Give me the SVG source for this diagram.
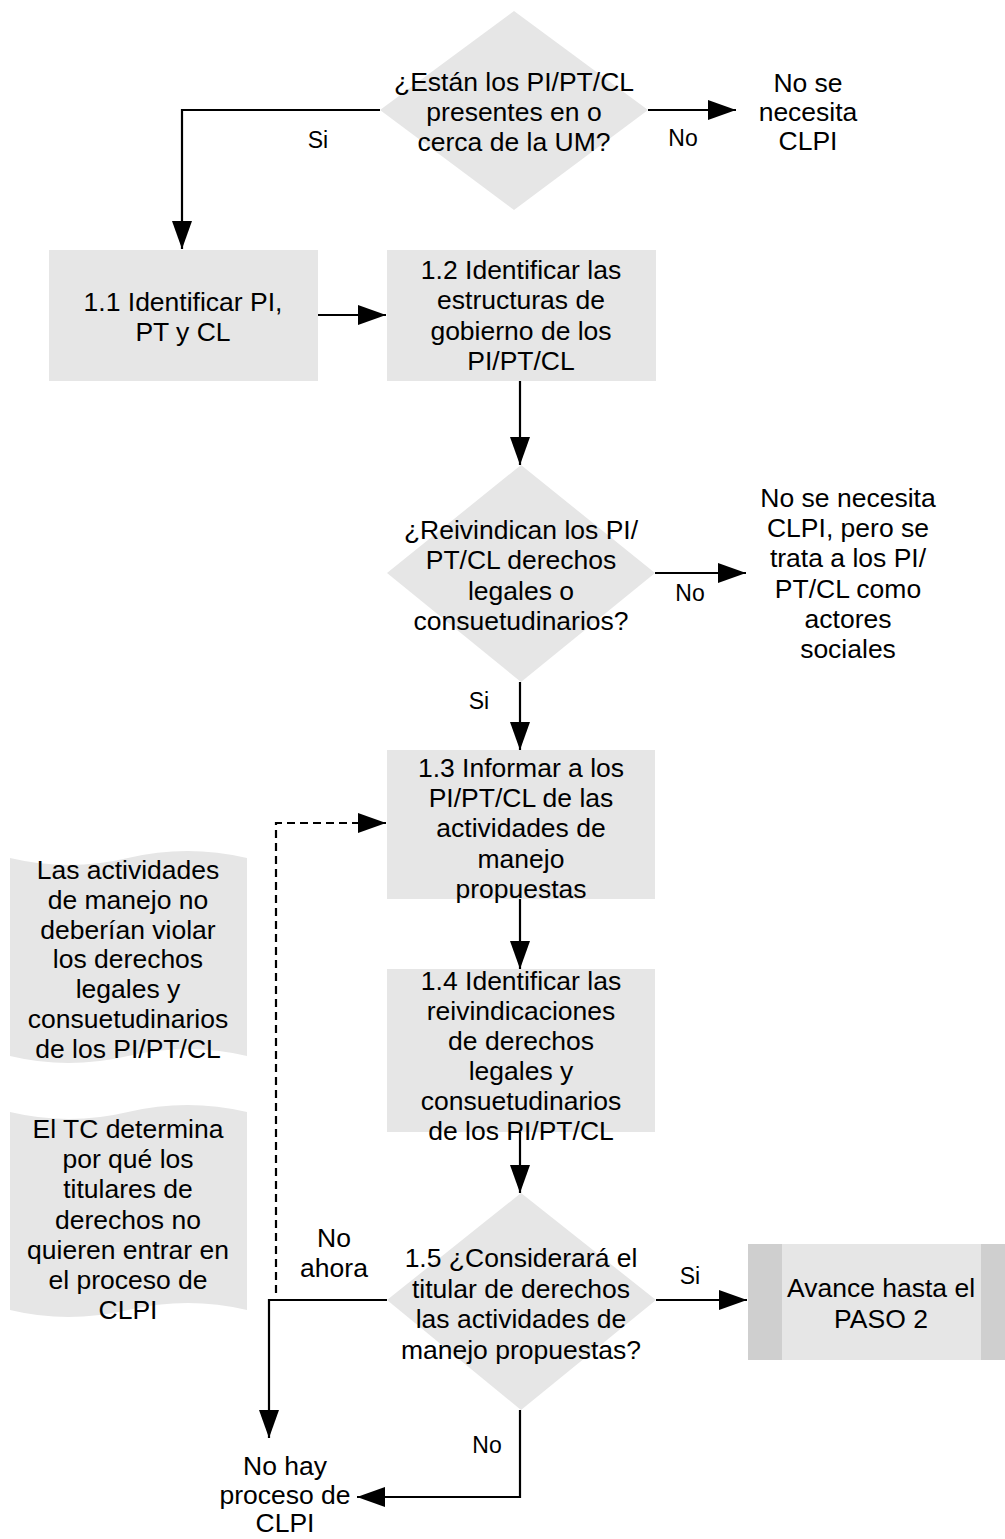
<svg xmlns="http://www.w3.org/2000/svg" width="1005" height="1539" viewBox="0 0 1005 1539">
  <style>
    .shape { fill: #e6e6e6; stroke: none; }
    .bar { fill: #cfcfcf; stroke: none; }
    .txt { font-family: "Liberation Sans", Arial, sans-serif; font-size: 26.5px; fill: #000; text-anchor: middle; }
    .lbl { font-family: "Liberation Sans", Arial, sans-serif; font-size: 23px; fill: #000; text-anchor: middle; }
    .edge { fill: none; stroke: #000; stroke-width: 2.2; }
    .dash { stroke-dasharray: 8 5; }
  </style>
  <defs>
    <marker id="arrow" viewBox="0 0 28 20" refX="28" refY="10" markerWidth="28" markerHeight="20" markerUnits="userSpaceOnUse" orient="auto">
      <path d="M0,0 L28,10 L0,20 z" fill="#000"/>
    </marker>
  </defs>

  <rect width="1005" height="1539" fill="#fff"/>

  <!-- Decision: presence of PI/PT/CL -->
  <g id="d1">
    <polygon class="shape" points="514,11 648,110 514,210 380,110"/>
    <text class="txt" x="514" y="91">¿Están los PI/PT/CL<tspan x="514" dy="30">presentes en o</tspan><tspan x="514" dy="30">cerca de la UM?</tspan></text>
  </g>

  <!-- End: no FPIC needed -->
  <g id="t1">
    <text class="txt" x="808" y="92">No se<tspan x="808" dy="29">necesita</tspan><tspan x="808" dy="29">CLPI</tspan></text>
  </g>

  <!-- Step 1.1 -->
  <g id="s11">
    <rect class="shape" x="49" y="250" width="269" height="131"/>
    <text class="txt" x="183" y="311">1.1 Identificar PI,<tspan x="183" dy="30">PT y CL</tspan></text>
  </g>

  <!-- Step 1.2 -->
  <g id="s12">
    <rect class="shape" x="387" y="250" width="269" height="131"/>
    <text class="txt" x="521" y="279">1.2 Identificar las<tspan x="521" dy="30.3">estructuras de</tspan><tspan x="521" dy="30.3">gobierno de los</tspan><tspan x="521" dy="30.3">PI/PT/CL</tspan></text>
  </g>

  <!-- Decision: rights claims -->
  <g id="d2">
    <polygon class="shape" points="521,465 655,573 521,682 387,573"/>
    <text class="txt" x="521" y="539">¿Reivindican los PI/<tspan x="521" dy="30.3">PT/CL derechos</tspan><tspan x="521" dy="30.3">legales o</tspan><tspan x="521" dy="30.3">consuetudinarios?</tspan></text>
  </g>

  <!-- End: treated as social actors -->
  <g id="t2">
    <text class="txt" x="848" y="507">No se necesita<tspan x="848" dy="30.2">CLPI, pero se</tspan><tspan x="848" dy="30.2">trata a los PI/</tspan><tspan x="848" dy="30.2">PT/CL como</tspan><tspan x="848" dy="30.2">actores</tspan><tspan x="848" dy="30.2">sociales</tspan></text>
  </g>

  <!-- Step 1.3 -->
  <g id="s13">
    <rect class="shape" x="387" y="750" width="268" height="149"/>
    <text class="txt" x="521" y="777">1.3 Informar a los<tspan x="521" dy="30.2">PI/PT/CL de las</tspan><tspan x="521" dy="30.2">actividades de</tspan><tspan x="521" dy="30.2">manejo</tspan><tspan x="521" dy="30.2">propuestas</tspan></text>
  </g>

  <!-- Step 1.4 -->
  <g id="s14">
    <rect class="shape" x="387" y="969" width="268" height="163"/>
    <text class="txt" x="521" y="990">1.4 Identificar las<tspan x="521" dy="30">reivindicaciones</tspan><tspan x="521" dy="30">de derechos</tspan><tspan x="521" dy="30">legales y</tspan><tspan x="521" dy="30">consuetudinarios</tspan><tspan x="521" dy="30">de los PI/PT/CL</tspan></text>
  </g>

  <!-- Decision 1.5 -->
  <g id="d3">
    <polygon class="shape" points="521,1193 656,1300 521,1410 387,1300"/>
    <text class="txt" x="521" y="1267">1.5 ¿Considerará el<tspan x="521" dy="30.5">titular de derechos</tspan><tspan x="521" dy="30.5">las actividades de</tspan><tspan x="521" dy="30.5">manejo propuestas?</tspan></text>
  </g>

  <!-- Off-page: step 2 -->
  <g id="p2">
    <rect class="shape" x="748" y="1244" width="257" height="116"/>
    <rect class="bar" x="748" y="1244" width="34" height="116"/>
    <rect class="bar" x="981" y="1244" width="24" height="116"/>
    <text class="txt" x="881" y="1297">Avance hasta el<tspan x="881" dy="31">PASO 2</tspan></text>
  </g>

  <!-- End: no FPIC process -->
  <g id="t3">
    <text class="txt" x="285" y="1475">No hay<tspan x="285" dy="29">proceso de</tspan><tspan x="285" dy="28">CLPI</tspan></text>
  </g>

  <!-- Note: rights must not be violated -->
  <g id="n1">
    <path class="shape" d="M10,858 Q69,872 128,858 T247,858 L247,1056 Q188,1042 128,1056 T10,1056 Z"/>
    <text class="txt" x="128" y="879">Las actividades<tspan x="128" dy="29.8">de manejo no</tspan><tspan x="128" dy="29.8">deberían violar</tspan><tspan x="128" dy="29.8">los derechos</tspan><tspan x="128" dy="29.8">legales y</tspan><tspan x="128" dy="29.8">consuetudinarios</tspan><tspan x="128" dy="29.8">de los PI/PT/CL</tspan></text>
  </g>

  <!-- Note: reasons for refusal -->
  <g id="n2">
    <path class="shape" d="M10,1112 Q69,1126 128,1112 T247,1112 L247,1310 Q188,1296 128,1310 T10,1310 Z"/>
    <text class="txt" x="128" y="1138">El TC determina<tspan x="128" dy="30.2">por qué los</tspan><tspan x="128" dy="30.2">titulares de</tspan><tspan x="128" dy="30.2">derechos no</tspan><tspan x="128" dy="30.2">quieren entrar en</tspan><tspan x="128" dy="30.2">el proceso de</tspan><tspan x="128" dy="30.2">CLPI</tspan></text>
  </g>

  <!-- Connectors -->
  <g id="connectors">
    <path class="edge" d="M380,110 H182 V249" marker-end="url(#arrow)"/>
    <path class="edge" d="M648,110 H736" marker-end="url(#arrow)"/>
    <path class="edge" d="M318,315 H386" marker-end="url(#arrow)"/>
    <path class="edge" d="M520,381 V465" marker-end="url(#arrow)"/>
    <path class="edge" d="M655,573 H746" marker-end="url(#arrow)"/>
    <path class="edge" d="M520,682 V750" marker-end="url(#arrow)"/>
    <path class="edge" d="M520,899 V969" marker-end="url(#arrow)"/>
    <path class="edge" d="M520,1132 V1193" marker-end="url(#arrow)"/>
    <path class="edge" d="M656,1300 H747" marker-end="url(#arrow)"/>
    <path class="edge" d="M387,1300 H269 V1438" marker-end="url(#arrow)"/>
    <path class="edge" d="M520,1410 V1497 H357" marker-end="url(#arrow)"/>
    <path class="edge dash" d="M276,1293 V823 H386" marker-end="url(#arrow)"/>
    <text class="lbl" x="318" y="148">Si</text>
    <text class="lbl" x="683" y="146">No</text>
    <text class="lbl" x="690" y="601">No</text>
    <text class="lbl" x="479" y="709">Si</text>
    <text class="lbl" x="690" y="1284">Si</text>
    <text class="lbl" x="487" y="1453">No</text>
    <text class="txt" x="334" y="1247">No<tspan x="334" dy="30">ahora</tspan></text>
  </g>
</svg>
